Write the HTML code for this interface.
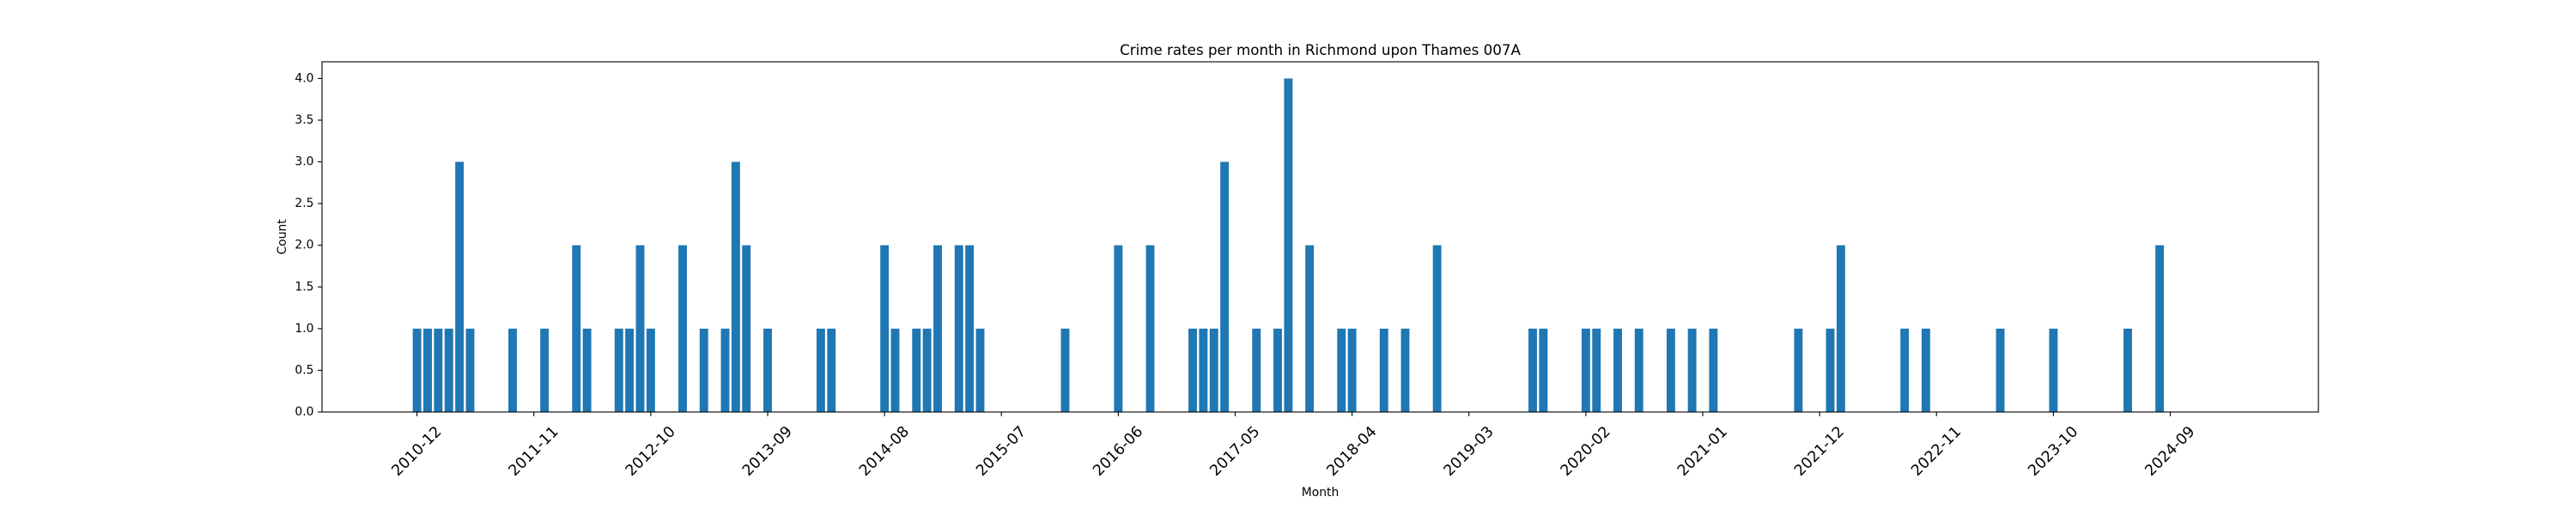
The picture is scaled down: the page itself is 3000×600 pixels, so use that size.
<!DOCTYPE html>
<html>
<head>
<meta charset="utf-8">
<style>
  html, body { margin: 0; padding: 0; background: #fff; }
  svg { display: block; font-family: "DejaVu Sans", "Liberation Sans", sans-serif; }
</style>
</head>
<body>
<svg id="chart" width="3000" height="600" viewBox="0 0 3000 600" xmlns="http://www.w3.org/2000/svg">
  <rect x="0" y="0" width="3000" height="600" fill="#ffffff"/>
  <text x="1537.5" y="64" font-size="16.7" text-anchor="middle" fill="#000">Crime rates per month in Richmond upon Thames 007A</text>
  <g id="bars"></g>
  <g id="xaxis"></g>
  <g id="yaxis"></g>
  <rect x="375" y="72" width="2325" height="408" fill="none" stroke="#000" stroke-width="1.1"/>
  <text x="1537.5" y="578" font-size="13.9" text-anchor="middle" fill="#000">Month</text>
  <text x="0" y="0" font-size="13.9" text-anchor="middle" fill="#000" transform="translate(333,276) rotate(-90)">Count</text>
</svg>
<script>
const startYear = 2010;
const startMonth = 12;
const monthCount = 171;
const counts = [
1,1,1,1,3,1,0,0,0,1, 0,0,1,0,0,2,1,0,0,1, 1,2,1,0,0,2,0,1,0,1,
3,2,0,1,0,0,0,0,1,1, 0,0,0,0,2,1,0,1,1,2, 0,2,2,1,0,0,0,0,0,0,
0,1,0,0,0,0,2,0,0,2, 0,0,0,1,1,1,3,0,0,1, 0,1,4,0,2,0,0,1,1,0,
0,1,0,1,0,0,2,0,0,0, 0,0,0,0,0,1,1,0,0,0, 1,1,0,1,0,1,0,0,1,0,
1,0,1,0,0,0,0,0,0,0, 1,0,0,1,2,0,0,0,0,0, 1,0,1,0,0,0,0,0,0,1,
0,0,0,0,1,0,0,0,0,0, 0,1,0,0,2,0,0,0,0,0, 0
];
const yTicks = [0, 0.5, 1, 1.5, 2, 2.5, 3, 3.5, 4];
const xTickEvery = 11;

const months = [];
for (let i = 0; i < monthCount; i++) {
  const m = startMonth - 1 + i;
  const y = startYear + Math.floor(m / 12);
  const mm = (m % 12) + 1;
  months.push(y + '-' + (mm < 10 ? '0' + mm : mm));
}

const NS = 'http://www.w3.org/2000/svg';
const L = 375, R = 2700, T = 72, B = 480;
const n = months.length;
const barW = 0.8;
const span = (n - 1) + barW;
const xmin = -barW / 2 - 0.05 * span, xmax = (n - 1) + barW / 2 + 0.05 * span;
const ymax = Math.max(...counts) * 1.05;
function xs(v) { return L + (v - xmin) / (xmax - xmin) * (R - L); }
function ys(v) { return B - v / ymax * (B - T); }
const unit = xs(1) - xs(0);

const barsG = document.getElementById('bars');
counts.forEach((c, i) => {
  if (c <= 0) return;
  const r = document.createElementNS(NS, 'rect');
  
  
  r.setAttribute('x', xs(i) - unit * barW / 2);
  r.setAttribute('width', unit * barW);
  r.setAttribute('y', ys(c));
  r.setAttribute('height', ys(0) - ys(c));
  r.setAttribute('fill', '#1f77b4');
  barsG.appendChild(r);
});

const xg = document.getElementById('xaxis');
for (let i = 0; i < n; i += xTickEvery) {
  const x = xs(i);
  const t = document.createElementNS(NS, 'line');
  
  
  t.setAttribute('x1', x); t.setAttribute('x2', x);
  t.setAttribute('y1', B); t.setAttribute('y2', B + 4.9);
  t.setAttribute('stroke', '#000'); t.setAttribute('stroke-width', '1.1');
  xg.appendChild(t);
  const lb = document.createElementNS(NS, 'text');
  
  
  const cy = 526;
  lb.setAttribute('x', x); lb.setAttribute('y', cy);
  lb.setAttribute('font-size', '17.5');
  lb.setAttribute('text-anchor', 'middle');
  lb.setAttribute('dominant-baseline', 'central');
  lb.setAttribute('transform', 'rotate(-45,' + x + ',' + cy + ')');
  lb.textContent = months[i];
  xg.appendChild(lb);
}

const yg = document.getElementById('yaxis');
yTicks.forEach(v => {
  const y = ys(v);
  const t = document.createElementNS(NS, 'line');
  
  
  t.setAttribute('x1', L - 4.9); t.setAttribute('x2', L);
  t.setAttribute('y1', y); t.setAttribute('y2', y);
  t.setAttribute('stroke', '#000'); t.setAttribute('stroke-width', '1.1');
  yg.appendChild(t);
  const lb = document.createElementNS(NS, 'text');
  
  
  lb.setAttribute('x', L - 9.5); lb.setAttribute('y', y);
  lb.setAttribute('font-size', '13.9');
  lb.setAttribute('text-anchor', 'end');
  lb.setAttribute('dominant-baseline', 'central');
  lb.textContent = v.toFixed(1);
  yg.appendChild(lb);
});
</script>
</body>
</html>
